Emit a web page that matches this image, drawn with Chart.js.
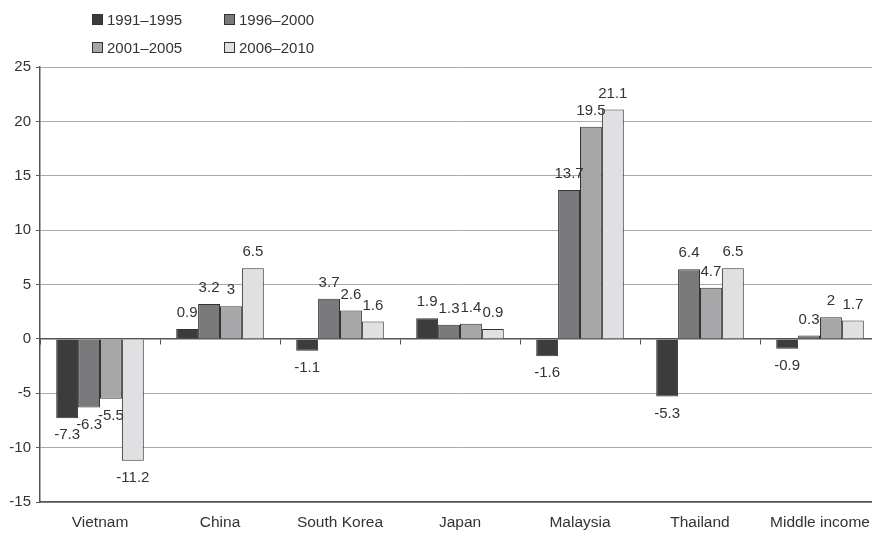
<!DOCTYPE html>
<html>
<head>
<meta charset="utf-8">
<script src="https://cdn.jsdelivr.net/npm/chart.js@4"></script>
<style>
  html, body { margin: 0; padding: 0; background: #fff; overflow: hidden; width: 872px; height: 533px; }
  #wrap { position: absolute; left: 0; top: 0; width: 890px; height: 533px; }
  #legend { position: absolute; left: 92px; top: 9px; font-family: "Liberation Sans", Arial, sans-serif; font-size: 15px; color: #333; display: grid; grid-template-columns: 132px 140px; row-gap: 8px; }
  .li { display: flex; align-items: center; height: 20px; }
  .sw { width: 11px; height: 11px; border: 1px solid #333; margin-right: 4px; box-sizing: border-box; }
</style>
</head>
<body>
<div id="wrap"><canvas id="c" width="890" height="533"></canvas></div>
<div id="legend"></div>
<script>
const categories = ["Vietnam", "China", "South Korea", "Japan", "Malaysia", "Thailand", "Middle income"];
const seriesNames = ["1991\u20131995", "1996\u20132000", "2001\u20132005", "2006\u20132010"];
const s1991 = [-7.3, 0.9, -1.1, 1.9, -1.6, -5.3, -0.9];
const s1996 = [-6.3, 3.2, 3.7, 1.3, 13.7, 6.4, 0.3];
const s2001 = [-5.5, 3, 2.6, 1.4, 19.5, 4.7, 2];
const s2006 = [-11.2, 6.5, 1.6, 0.9, 21.1, 6.5, 1.7];
const yTicks = [-15, -10, -5, 0, 5, 10, 15, 20, 25];
const colors = ["#3c3c3e", "#79797b", "#a7a7a9", "#e0e0e2"];

const seriesValues = [s1991, s1996, s2001, s2006];
const FONT = "'Liberation Sans', Arial, sans-serif";

// HTML legend
const leg = document.getElementById('legend');
seriesNames.forEach((n, i) => {
  const d = document.createElement('div'); d.className = 'li';
  const s = document.createElement('span'); s.className = 'sw'; s.style.background = colors[i];
  const t = document.createElement('span'); t.textContent = n;
  d.appendChild(s); d.appendChild(t); leg.appendChild(d);
});

const labelPlugin = {
  id: 'valueLabels',
  afterDatasetsDraw(chart) {
    const ctx = chart.ctx;
    ctx.save();
    ctx.font = "15px " + FONT;
    ctx.fillStyle = "#333";
    ctx.textAlign = "center";
    ctx.textBaseline = "middle";
    chart.data.datasets.forEach((ds, di) => {
      const meta = chart.getDatasetMeta(di);
      meta.data.forEach((el, i) => {
        const v = ds.data[i];
        const y = v >= 0 ? el.y - 16 : el.y + 17;
        ctx.fillText(String(v), el.x, y);
      });
    });
    ctx.restore();
  }
};

new Chart(document.getElementById('c'), {
  type: 'bar',
  data: {
    labels: categories,
    datasets: seriesValues.map((vals, i) => ({
      label: seriesNames[i],
      data: vals,
      backgroundColor: colors[i],
      borderColor: "#333",
      borderWidth: 1,
      categoryPercentage: 0.73,
      barPercentage: 1.0
    }))
  },
  options: {
    responsive: false,
    animation: false,
    events: [],
    layout: { padding: { top: 67, right: 10, left: 0, bottom: 0 } },
    plugins: { legend: { display: false }, tooltip: { enabled: false } },
    scales: {
      x: {
        type: 'category',
        position: 'bottom',
        grid: { display: false, drawTicks: false },
        border: { display: true, color: '#555', width: 1.5 },
        ticks: { color: '#333', font: { family: FONT, size: 15.5 }, padding: 11, maxRotation: 0, autoSkip: false },
        afterFit(s) { s.height = 31; }
      },
      x0: {
        type: 'category',
        labels: categories,
        position: { y: 0 },
        offset: true,
        grid: { display: true, offset: true, drawOnChartArea: false, drawTicks: true, tickLength: 5, color: '#555', lineWidth: 1 },
        border: { display: true, color: '#555', width: 1.5 },
        ticks: { display: false }
      },
      y: {
        min: -15, max: 25,
        afterBuildTicks(s) { s.ticks = yTicks.map(v => ({ value: v })); },
        grid: { color: (c) => c.tick && c.tick.value === 0 ? 'rgba(0,0,0,0)' : '#aaaaaa', lineWidth: 1, drawTicks: true, tickLength: 4, tickColor: '#555' },
        border: { display: true, color: '#555', width: 1.5 },
        ticks: { color: '#333', font: { family: FONT, size: 15 }, padding: 5 },
        afterFit(s) { s.width = 40; }
      }
    }
  },
  plugins: [labelPlugin]
});
</script>
</body>
</html>
